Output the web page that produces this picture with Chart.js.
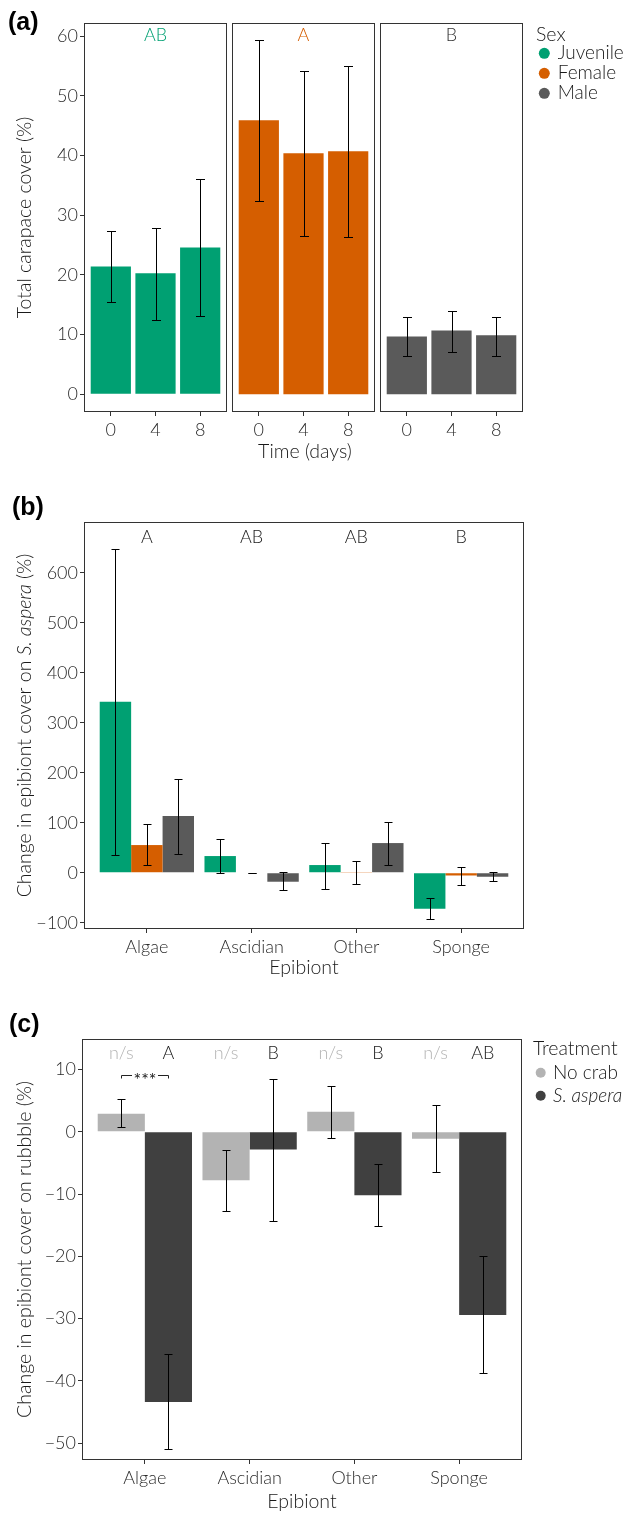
<!DOCTYPE html>
<html>
<head>
<meta charset="utf-8">
<script src="https://cdn.jsdelivr.net/npm/chart.js@4.4.0/dist/chart.umd.min.js"></script>
<style>
  body { margin: 0; background: #fff; }
  #wrap { position: relative; width: 630px; height: 1513px; }
  canvas { position: absolute; left: 0; }
</style>
</head>
<body>
<div id="wrap">
  <canvas id="a1" width="630" height="470" style="top:0"></canvas>
  <canvas id="a2" width="630" height="470" style="top:0"></canvas>
  <canvas id="a3" width="630" height="470" style="top:0"></canvas>
  <canvas id="b" width="630" height="500" style="top:480px"></canvas>
  <canvas id="c" width="630" height="513" style="top:1000px"></canvas>
</div>
<script>
// ---- panel (a): carapace cover by sex and time
const timeLabels = ['0', '4', '8'];
const sexLabels = ['Juvenile', 'Female', 'Male'];
const facetLetters = ['AB', 'A', 'B'];
const juvMean = [21.4, 20.3, 24.6];
const juvLow = [15.5, 12.5, 13.1];
const juvHigh = [27.4, 27.9, 36.1];
const femMean = [45.9, 40.4, 40.7];
const femLow = [32.4, 26.6, 26.4];
const femHigh = [59.3, 54.1, 55.0];
const maleMean = [9.7, 10.7, 9.9];
const maleLow = [6.5, 7.1, 6.5];
const maleHigh = [12.9, 14.0, 13.0];
const aTicks = [0, 10, 20, 30, 40, 50, 60];

// ---- panel (b): change in epibiont cover on S. aspera
const epibionts = ['Algae', 'Ascidian', 'Other', 'Sponge'];
const bLetters = ['A', 'AB', 'AB', 'B'];
const bJuvMean = [342, 33.4, 15.4, -72];
const bJuvLow = [35.4, 0, -32, -92];
const bJuvHigh = [648.8, 66.8, 60, -50];
const bFemMean = [55.4, 0, 1.5, -5.5];
const bFemLow = [14.8, 0, -22, -24.6];
const bFemHigh = [96.8, 0, 22.8, 11.4];
const bMaleMean = [113.4, -18, 59.4, -8];
const bMaleLow = [36.8, -34, 16, -16.6];
const bMaleHigh = [187.4, 0.5, 100.8, 0.8];
const bTicks = [-100, 0, 100, 200, 300, 400, 500, 600];

// ---- panel (c): change in epibiont cover on rubble
const treatments = ['No crab', 'S. aspera'];
const nsLabels = ['n/s', 'n/s', 'n/s', 'n/s'];
const cLetters = ['A', 'B', 'B', 'AB'];
const cNoMean = [2.9, -7.8, 3.2, -1.1];
const cNoLow = [0.7, -12.65, -1.0, -6.4];
const cNoHigh = [5.25, -2.9, 7.4, 4.3];
const cSaMean = [-43.4, -2.85, -10.2, -29.4];
const cSaLow = [-51, -14.3, -15.2, -38.7];
const cSaHigh = [-35.6, 8.5, -5.1, -20.0];
const cTicks = [-50, -40, -30, -20, -10, 0, 10];
const bracketLevel = 9.16;
const bracketLabel = '***';

const sexColors = ['#00A072', '#D55E00', '#5A5A5A'];
const treatColors = ['#B3B3B3', '#404040'];

const FONT = 'Lato, "Open Sans", sans-serif';
Chart.defaults.font.family = FONT;
Chart.defaults.font.weight = '300';
Chart.defaults.color = '#333';
Chart.defaults.animation = false;
Chart.defaults.plugins.legend.display = false;
Chart.defaults.plugins.tooltip.enabled = false;

function put(ctx, parts, x, y, o = {}) {
  const size = o.size || 19.5;
  if (typeof parts === 'string') parts = [[parts, false]];
  ctx.save();
  ctx.translate(x, y);
  if (o.rot) ctx.rotate(o.rot);
  ctx.fillStyle = o.color || '#1a1a1a';
  ctx.textBaseline = o.base || 'middle';
  ctx.textAlign = 'left';
  const fontOf = it => (it ? 'italic ' : '') + (o.weight || 300) + ' ' + size + 'px ' + (o.family || FONT);
  let total = 0;
  parts.forEach(p => { ctx.font = fontOf(p[1]); total += ctx.measureText(p[0]).width; });
  let cx = o.align === 'left' ? 0 : -total / 2;
  parts.forEach(p => { ctx.font = fontOf(p[1]); ctx.fillText(p[0], cx, 0); cx += ctx.measureText(p[0]).width; });
  ctx.restore();
}

function dot(ctx, x, y, r, color) {
  ctx.save();
  ctx.fillStyle = color;
  ctx.beginPath();
  ctx.arc(x, y, r, 0, Math.PI * 2);
  ctx.fill();
  ctx.restore();
}

function panelLabel(ctx, s, x, y) {
  put(ctx, s, x, y, {align: 'left', base: 'alphabetic', size: 25, weight: 'bold', family: '"Liberation Sans", Arial, sans-serif', color: '#000'});
}

function xAxis(labels, h) {
  return {
    type: 'linear', min: 0.4, max: labels.length + 0.6, offset: false,
    afterBuildTicks: s => { s.ticks = labels.map((l, i) => ({value: i + 1})); },
    afterFit: s => { s.height = h; },
    grid: {drawOnChartArea: false, tickLength: 4, color: '#333', offset: false},
    border: {display: false},
    ticks: {autoSkip: false, maxRotation: 0, padding: 3, color: '#2b2b2b', font: {size: 18},
      callback: (v, i) => labels[i]}
  };
}

function yAxis(min, max, ticks, w, show) {
  return {
    display: show, min, max,
    afterBuildTicks: s => { s.ticks = ticks.map(v => ({value: v})); },
    afterFit: s => { s.width = w; },
    grid: {drawOnChartArea: false, tickLength: 4, color: '#333'},
    border: {display: false},
    ticks: {padding: 2, color: '#2b2b2b', font: {size: 18},
      callback: v => String(v).replace('-', '\u2212')}
  };
}

const errorBars = {
  id: 'errorBars',
  afterDatasetsDraw(chart, args, o) {
    const {ctx} = chart;
    const ys = chart.scales.y;
    ctx.save();
    ctx.strokeStyle = '#000';
    ctx.lineWidth = 1;
    chart.data.datasets.forEach((ds, di) => {
      if (!ds.errLow) return;
      chart.getDatasetMeta(di).data.forEach((bar, i) => {
        const x = Math.round(bar.x) + 0.5;
        const t = Math.round(ys.getPixelForValue(ds.errHigh[i])) + 0.5;
        const b = Math.round(ys.getPixelForValue(ds.errLow[i])) + 0.5;
        ctx.beginPath();
        ctx.moveTo(x - o.cap, t); ctx.lineTo(x + o.cap, t);
        ctx.moveTo(x, t); ctx.lineTo(x, b);
        ctx.moveTo(x - o.cap, b); ctx.lineTo(x + o.cap, b);
        ctx.stroke();
      });
    });
    ctx.restore();
  }
};

const frame = {
  id: 'frame',
  afterDraw(chart) {
    const {ctx, chartArea: a} = chart;
    ctx.save();
    ctx.strokeStyle = '#333';
    ctx.lineWidth = 1;
    ctx.strokeRect(Math.round(a.left) + 0.5, Math.round(a.top) + 0.5,
      Math.round(a.right - a.left) - 1, Math.round(a.bottom - a.top) - 1);
    ctx.restore();
  }
};

// ---------- panel (a): three facets ----------
const aMeans = [juvMean, femMean, maleMean];
const aLows = [juvLow, femLow, maleLow];
const aHighs = [juvHigh, femHigh, maleHigh];
const facetEdges = [[84, 227], [232, 375], [380, 523]];

['a1', 'a2', 'a3'].forEach((id, f) => {
  new Chart(document.getElementById(id), {
    type: 'bar',
    data: {
      datasets: [{
        data: aMeans[f].map((v, i) => ({x: i + 1, y: v})),
        errLow: aLows[f], errHigh: aHighs[f],
        backgroundColor: sexColors[f], borderWidth: 0,
        categoryPercentage: 0.9, barPercentage: 1
      }]
    },
    options: {
      responsive: false, devicePixelRatio: 1,
      layout: {padding: {left: f === 0 ? 0 : facetEdges[f][0], right: 630 - facetEdges[f][1], top: 23, bottom: 0}},
      scales: {x: xAxis(timeLabels, 58), y: yAxis(-2.96, 62.2, aTicks, f === 0 ? 84 : 0, f === 0)},
      plugins: {errorBars: {cap: 4.5}}
    },
    plugins: [errorBars, frame, {
      id: 'decoA',
      afterDraw(chart) {
        const {ctx, chartArea: a} = chart;
        put(ctx, facetLetters[f], (a.left + a.right) / 2, 35, {size: 18, color: f === 2 ? '#333' : sexColors[f]});
        if (f === 0) {
          panelLabel(ctx, '(a)', 8, 30);
          put(ctx, 'Total carapace cover (%)', 25, (a.top + a.bottom) / 2, {rot: -Math.PI / 2});
        }
        if (f === 1) put(ctx, 'Time (days)', 305, 452);
        if (f === 2) {
          put(ctx, 'Sex', 536, 35, {align: 'left'});
          sexLabels.forEach((s, i) => {
            dot(ctx, 544.3, 53.3 + 20 * i, 5.5, sexColors[i]);
            put(ctx, s, 557.7, 53.3 + 20 * i, {align: 'left', size: 19});
          });
        }
      }
    }]
  });
});

// ---------- panel (b) ----------
const bMeans = [bJuvMean, bFemMean, bMaleMean];
const bLows = [bJuvLow, bFemLow, bMaleLow];
const bHighs = [bJuvHigh, bFemHigh, bMaleHigh];

new Chart(document.getElementById('b'), {
  type: 'bar',
  data: {
    datasets: sexLabels.map((s, k) => ({
      label: s,
      data: bMeans[k].map((v, i) => ({x: i + 1, y: v})),
      errLow: bLows[k], errHigh: bHighs[k],
      backgroundColor: sexColors[k], borderWidth: 0,
      categoryPercentage: 0.9, barPercentage: 1
    }))
  },
  options: {
    responsive: false, devicePixelRatio: 1,
    layout: {padding: {left: 0, right: 106, top: 42, bottom: 0}},
    scales: {x: xAxis(epibionts, 51), y: yAxis(-112.6, 702, bTicks, 84, true)},
    plugins: {errorBars: {cap: 4}}
  },
  plugins: [errorBars, frame, {
    id: 'decoB',
    afterDraw(chart) {
      const {ctx, chartArea: a} = chart;
      const xs = chart.scales.x;
      bLetters.forEach((l, i) => put(ctx, l, xs.getPixelForValue(i + 1), 56.7, {size: 18}));
      panelLabel(ctx, '(b)', 12, 35);
      put(ctx, 'Epibiont', (a.left + a.right) / 2, 488);
      put(ctx, [['Change in epibiont cover on ', false], ['S. aspera', true], [' (%)', false]],
        25, (a.top + a.bottom) / 2, {rot: -Math.PI / 2});
    }
  }]
});

// ---------- panel (c) ----------
const cMeans = [cNoMean, cSaMean];
const cLows = [cNoLow, cSaLow];
const cHighs = [cNoHigh, cSaHigh];

new Chart(document.getElementById('c'), {
  type: 'bar',
  data: {
    datasets: treatments.map((t, k) => ({
      label: t,
      data: cMeans[k].map((v, i) => ({x: i + 1, y: v})),
      errLow: cLows[k], errHigh: cHighs[k],
      backgroundColor: treatColors[k], borderWidth: 0,
      categoryPercentage: 0.9, barPercentage: 1
    }))
  },
  options: {
    responsive: false, devicePixelRatio: 1,
    layout: {padding: {left: 0, right: 108, top: 39, bottom: 0}},
    scales: {x: xAxis(epibionts, 53), y: yAxis(-52.7, 14.9, cTicks, 82, true)},
    plugins: {errorBars: {cap: 4}}
  },
  plugins: [errorBars, frame, {
    id: 'decoC',
    afterDraw(chart) {
      const {ctx, chartArea: a} = chart;
      const m0 = chart.getDatasetMeta(0).data, m1 = chart.getDatasetMeta(1).data;
      nsLabels.forEach((l, i) => put(ctx, l, m0[i].x, 53.3, {size: 18, color: treatColors[0]}));
      cLetters.forEach((l, i) => put(ctx, l, m1[i].x, 53.3, {size: 18}));
      // significance bracket between the algae bars
      const x1 = Math.round(m0[0].x) + 0.5, x2 = Math.round(m1[0].x) + 0.5;
      const yb = Math.round(chart.scales.y.getPixelForValue(bracketLevel)) + 0.5;
      const cx = (x1 + x2) / 2;
      ctx.save();
      ctx.strokeStyle = '#222';
      ctx.lineWidth = 1;
      ctx.beginPath();
      ctx.moveTo(x1, yb + 3); ctx.lineTo(x1, yb); ctx.lineTo(cx - 13, yb);
      ctx.moveTo(cx + 13, yb); ctx.lineTo(x2, yb); ctx.lineTo(x2, yb + 3);
      ctx.stroke();
      ctx.restore();
      put(ctx, bracketLabel, cx, yb + 10, {size: 18, weight: 400, base: 'alphabetic'});
      panelLabel(ctx, '(c)', 9, 32);
      put(ctx, 'Epibiont', (a.left + a.right) / 2, 502);
      put(ctx, 'Change in epibiont cover on rubbble (%)', 25, (a.top + a.bottom) / 2, {rot: -Math.PI / 2});
      put(ctx, 'Treatment', 533, 49, {align: 'left'});
      treatments.forEach((t, i) => {
        dot(ctx, 540.7, 72.7 + 23 * i, 5, treatColors[i]);
        put(ctx, [[t, i === 1]], 553, 72.7 + 23 * i, {align: 'left', size: 19});
      });
    }
  }]
});
</script>
</body>
</html>
